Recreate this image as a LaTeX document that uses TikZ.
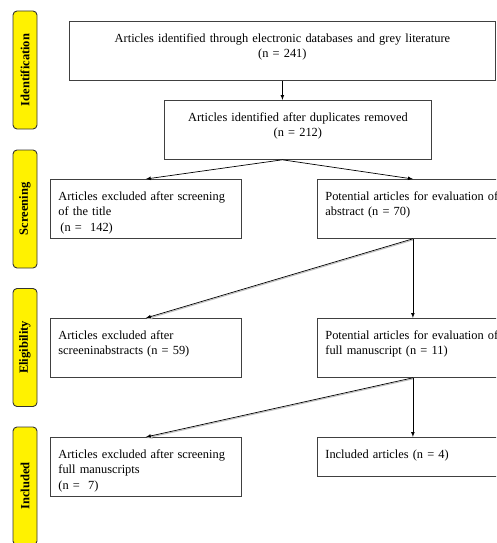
\documentclass[tikz,border=0pt]{standalone}
\usepackage{fontspec}
\setmainfont{Liberation Serif}
\usetikzlibrary{arrows,positioning,calc}
\tikzset{
	>=latex,
	phase/.style={rectangle, rounded corners=4pt, draw=black!80, line width=0.9pt, fill=yellow, rotate=90, minimum width=118pt, minimum height=24pt, inner sep=0pt, font=\fontsize{12.5}{14}\selectfont\bfseries},
	stagebox/.style={rectangle, draw=black!75, line width=0.8pt, anchor=north west, inner xsep=8pt, inner ysep=0pt, text height=21pt, text depth=38pt, font=\fontsize{12.4}{15.5}\selectfont, align=left, text width=175pt},
	widebox/.style={stagebox, align=center, text width=410pt},
	midbox/.style={stagebox, align=center, text width=251pt},
	shortbox/.style={stagebox, text depth=18pt},
	flow/.style={->, line width=0.7pt},
	shade/.style={preaction={draw=black!25, line width=1pt, transform canvas={shift={(0.6pt,-1pt)}}}}
}

\begin{document}
\begin{tikzpicture}[x=1pt, y=-1pt]
	\useasboundingbox (0,0) rectangle (496,543);
	\clip (0,0) rectangle (496,543);

	% --- Phases ---
	\node[phase] (ph_ident) at (25,70) {Identification};
	\node[phase] (ph_screen) at (25,209) {Screening};
	\node[phase] (ph_elig) at (25,347.5) {Eligibility};
	\node[phase] (ph_incl) at (25,486) {Included};

	% --- Boxes ---
	\node[widebox] (id_all) at (69,21) {Articles identified through electronic databases and grey literature\\(n = 241)};
	\node[midbox] (id_dedup) at (164,100) {Articles identified after duplicates removed\\(n = 212)};

	\node[stagebox] (ex_title) at (50,179) {Articles excluded after screening\\of the title\\\hspace{2pt}(n =\ \ 142)};
	\node[stagebox] (pot_abstract) at (317,179) {Potential articles for evaluation of\\abstract (n = 70)};

	\node[stagebox] (ex_abstract) at (50,318) {Articles excluded after\\screeninabstracts (n = 59)};
	\node[stagebox] (pot_full) at (317,318) {Potential articles for evaluation of\\full manuscript (n = 11)};

	\node[stagebox] (ex_full) at (50,437) {Articles excluded after screening\\full manuscripts\\(n =\ \ 7)};
	\node[shortbox] (included) at (317,437) {Included articles (n = 4)};

	% --- Connections ---
	\coordinate (split_a) at (id_all.south |- id_dedup.south);
	\draw[flow] (id_all.south) -- (id_all.south |- id_dedup.north);
	\draw[flow] (split_a) -- (ex_title.north);
	\draw[flow] (split_a) -- (pot_abstract.north);

	\draw[flow, shade] (pot_abstract.south) -- (ex_abstract.north);
	\draw[flow] (pot_abstract.south) -- (pot_full.north);

	\draw[flow, shade] (pot_full.south) -- (ex_full.north);
	\draw[flow] (pot_full.south) -- (included.north);

\end{tikzpicture}
\end{document}
